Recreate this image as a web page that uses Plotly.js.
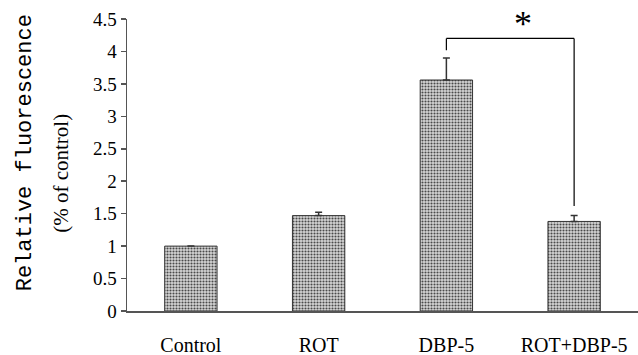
<!DOCTYPE html>
<html><head><meta charset="utf-8">
<script src="https://cdn.plot.ly/plotly-3.0.1.min.js"></script>
<style>html,body{margin:0;padding:0;background:#fff}#chart{width:638px;height:355px}</style>
</head><body><div id="chart"></div>
<script>
const categories = ["Control", "ROT", "DBP-5", "ROT+DBP-5"];
const values = [1.0, 1.47, 3.56, 1.38];
const errors = [NaN, 0.05, 0.34, 0.09];
const yTicks = [0, 0.5, 1, 1.5, 2, 2.5, 3, 3.5, 4, 4.5];
const yTickLabels = ["0", "0.5", "1", "1.5", "2", "2.5", "3", "3.5", "4", "4.5"];
const sigPair = [2, 3];
const sigLabel = "*";

const serif = "Liberation Serif";
const mono = "Liberation Mono";
const bracketTop = 4.2;
const leftEnd = values[sigPair[0]] + errors[sigPair[0]] + 0.12;
const rightEnd = values[sigPair[1]] + errors[sigPair[1]] + 0.15;
const lineStyle = {color: "#000", width: 1.2};

const trace = {
  type: "bar",
  x: categories,
  y: values,
  width: 0.41,
  marker: {
    color: "#d0d0d0",
    line: {color: "#333", width: 1},
    pattern: {shape: ".", fgcolor: "#4a4a4a", bgcolor: "#d6d6d6", size: 3, solidity: 0.4}
  },
  error_y: {type: "data", symmetric: false, array: errors, arrayminus: errors.map(() => 0),
            color: "#333", thickness: 1.5, width: 3.5},
  hoverinfo: "skip"
};

const layout = {
  width: 638, height: 355,
  margin: {l: 127, r: 0, t: 19, b: 44},
  paper_bgcolor: "#fff", plot_bgcolor: "#fff",
  showlegend: false,
  bargap: 0.59,
  font: {family: serif, color: "#000"},
  xaxis: {
    type: "category", range: [-0.5, 3.5],
    showline: true, linecolor: "#555", linewidth: 1.5,
    ticks: "", ticklabelstandoff: 15,
    tickfont: {family: serif, size: 20, color: "#000"},
    showgrid: false, zeroline: false
  },
  yaxis: {
    range: [0, 4.5],
    tickvals: yTicks, ticktext: yTickLabels,
    showline: true, linecolor: "#555", linewidth: 1.5,
    ticks: "outside", ticklen: 5, tickcolor: "#555", tickwidth: 1.5,
    tickfont: {family: serif, size: 19, color: "#000"},
    showgrid: false, zeroline: false
  },
  shapes: [
    {type: "line", xref: "x", yref: "y", x0: sigPair[0], x1: sigPair[0], y0: leftEnd, y1: bracketTop, line: lineStyle},
    {type: "line", xref: "x", yref: "y", x0: sigPair[0], x1: sigPair[1], y0: bracketTop, y1: bracketTop, line: lineStyle},
    {type: "line", xref: "x", yref: "y", x0: sigPair[1], x1: sigPair[1], y0: bracketTop, y1: rightEnd, line: lineStyle}
  ],
  annotations: [
    {text: "Relative fluorescence", xref: "paper", yref: "paper", x: 0, y: 0.54, xshift: -102,
     xanchor: "center", yanchor: "middle", textangle: -90, showarrow: false,
     font: {family: mono, size: 22, color: "#000"}},
    {text: "(% of control)", xref: "paper", yref: "paper", x: 0, y: 0.47, xshift: -66,
     xanchor: "center", yanchor: "middle", textangle: -90, showarrow: false,
     font: {family: serif, size: 21, color: "#000"}},
    {text: sigLabel, xref: "x", yref: "y", x: 2.55, y: 4.42, xshift: 6,
     xanchor: "center", yanchor: "middle", showarrow: false,
     font: {family: serif, size: 36, color: "#000"}}
  ]
};

Plotly.newPlot("chart", [trace], layout, {staticPlot: true, displayModeBar: false});
</script></body></html>
